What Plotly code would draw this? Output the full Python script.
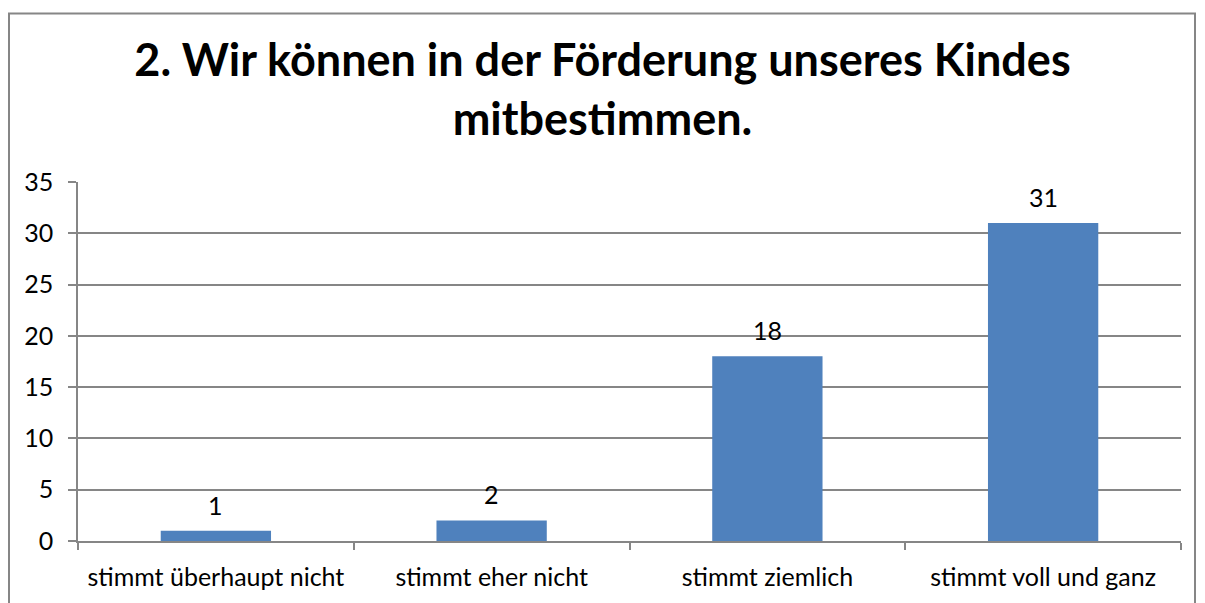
import plotly.graph_objects as go

categories = ["stimmt überhaupt nicht", "stimmt eher nicht", "stimmt ziemlich", "stimmt voll und ganz"]
values = [1, 2, 18, 31]
title_text = "2. Wir können in der Förderung unseres Kindes<br>mitbestimmen."

W, H = 1205, 603
L, R, T, B = 78, 24, 182, 59
pw, ph = W - L - R, H - T - B

def px_x(x):
    return (x - L) / pw

def px_y(y):
    return (H - B - y) / ph

FONT = "Lato"
grey = "#868686"

fig = go.Figure(go.Bar(
    x=categories, y=values,
    marker=dict(color="#4F81BD", line=dict(width=0)),
    cliponaxis=False,
))

for c, v in zip(categories, values):
    fig.add_annotation(x=c, y=v, text=str(v), showarrow=False,
                       yanchor="middle", yshift=26,
                       font=dict(family=FONT, size=25, color="#000000"))

fig.update_layout(
    width=W, height=H,
    margin=dict(l=L, r=R, t=T, b=B),
    paper_bgcolor="white", plot_bgcolor="white",
    bargap=0.6,
    showlegend=False,
    font=dict(family=FONT, size=25, color="#000000"),
    title=dict(text="<b>" + title_text + "</b>", x=0.5, xanchor="center",
               y=1 - 76 / H, yanchor="middle",
               font=dict(family=FONT, size=45, color="#000000")),
    xaxis=dict(showline=True, linecolor=grey, linewidth=1.5,
               ticks="outside", tickson="boundaries", ticklen=7, tickcolor=grey, tickwidth=1.5,
               tickfont=dict(family=FONT, size=25), showgrid=False, ticklabelstandoff=13),
    yaxis=dict(range=[0, 35], dtick=5, showline=True, linecolor=grey, linewidth=1.5,
               ticks="outside", ticklen=8, tickcolor=grey, tickwidth=1.5,
               showgrid=True, gridcolor=grey, gridwidth=1.5, zeroline=False,
               tickfont=dict(family=FONT, size=25), ticklabelstandoff=10),
    shapes=[dict(type="rect", xref="paper", yref="paper",
                 x0=px_x(9), x1=px_x(1195), y0=px_y(620), y1=px_y(12),
                 line=dict(color=grey, width=2), layer="below")],
)

fig.write_html("out.html", config={"displayModeBar": False},
               post_script="document.body.style.margin='0';document.body.style.overflow='hidden';")
